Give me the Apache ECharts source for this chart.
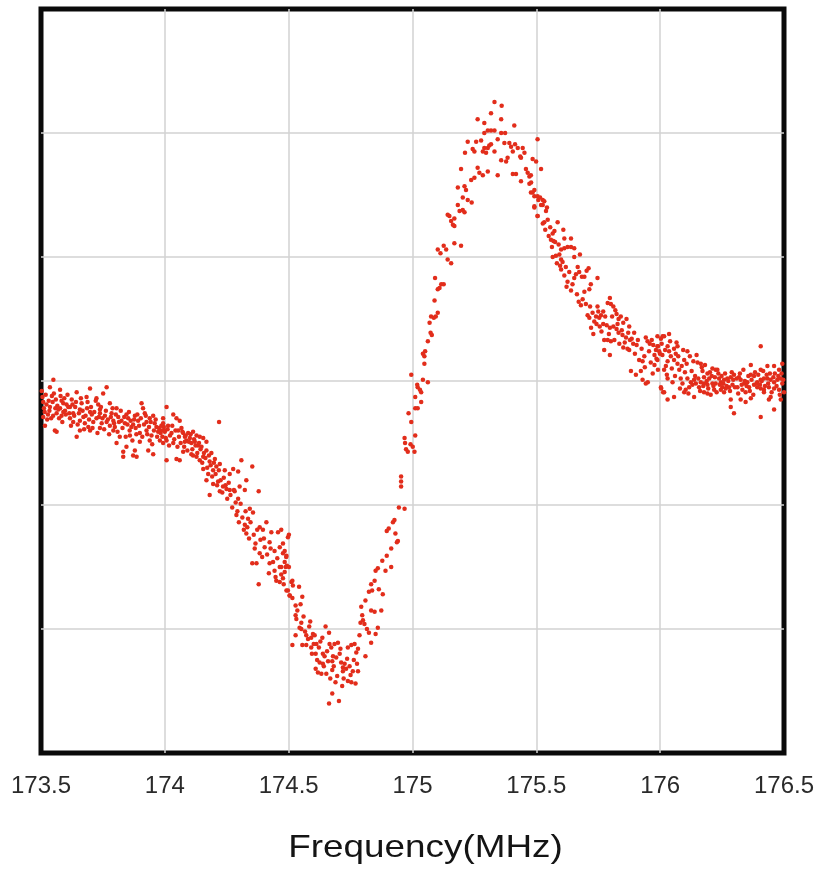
<!DOCTYPE html>
<html>
<head>
<meta charset="utf-8">
<title>Frequency sweep</title>
<script src="https://cdn.jsdelivr.net/npm/echarts@6/dist/echarts.min.js"></script>
<style>
  html, body { margin: 0; padding: 0; background: #ffffff; }
  #chart { width: 820px; height: 870px; }
</style>
</head>
<body>
<div id="chart"></div>
<script>
// Frequency axis ticks (MHz)
const freqTicks = [173.5, 174, 174.5, 175, 175.5, 176, 176.5];
const axisTitle = 'Frequency(MHz)';

// Measured points [frequency MHz, signal], grouped by part of the sweep
const lowWing = [
  [173.550,0.01],[173.536,-0.05],[173.577,-0.07],[173.552,-0.10],[173.509,-0.17],[173.547,-0.17],
  [173.644,-0.09],[173.698,-0.06],[173.765,-0.05],[173.751,-0.10],[173.724,-0.14],[173.684,-0.13],
  [173.536,-0.21],[173.577,-0.22],[173.603,-0.19],[173.617,-0.21],[173.590,-0.25],[173.563,-0.26],
  [173.509,-0.29],[173.516,-0.36],[173.556,-0.40],[173.563,-0.41],[173.630,-0.26],[173.657,-0.23],
  [173.671,-0.29],[173.698,-0.25],[173.738,-0.23],[173.778,-0.18],[173.805,-0.22],[173.644,-0.45],
  [173.805,-0.50],[173.845,-0.53],[173.832,-0.57],[173.872,-0.60],[173.899,-0.42],[173.926,-0.40],
  [173.939,-0.48],[173.966,-0.37],[173.590,-0.18],[173.610,-0.21],[173.570,-0.23],[173.583,-0.28],
  [173.617,-0.30],[173.630,-0.33],[173.657,-0.32],[173.677,-0.34],[173.691,-0.37],[173.711,-0.33],
  [173.724,-0.30],[173.738,-0.26],[173.745,-0.34],[173.765,-0.33],[173.778,-0.36],[173.792,-0.32],
  [173.812,-0.29],[173.825,-0.32],[173.839,-0.34],[173.852,-0.30],[173.865,-0.37],[173.879,-0.28],
  [173.892,-0.32],[173.906,-0.18],[173.912,-0.22],[173.919,-0.26],[173.926,-0.33],[173.939,-0.30],
  [173.953,-0.28],[173.959,-0.34],[173.973,-0.41],[173.986,-0.36],[173.999,-0.40],[174.007,-0.48],
  [173.698,-0.40],[173.657,-0.40],[173.738,-0.38],[173.792,-0.40],[173.818,-0.45],[173.859,-0.44],
  [173.899,-0.49],[173.933,-0.56],[173.953,-0.59],[173.879,-0.56],[173.886,-0.61],[173.832,-0.61],
  [173.503,-0.08],[173.512,-0.22],[173.522,-0.19],[173.528,-0.27],[173.541,-0.30],[173.560,-0.15],
  [173.566,-0.20],[173.583,-0.16],[173.597,-0.24],[173.624,-0.15],[173.638,-0.21],[173.664,-0.18],
  [173.686,-0.22],[173.705,-0.27],[173.731,-0.19],[173.758,-0.28],[173.785,-0.26],[173.798,-0.37],
  [173.845,-0.27],[173.858,-0.40],[173.872,-0.35],[173.885,-0.43],[173.946,-0.44],[173.980,-0.48],
  [173.993,-0.30],
  [173.506,-0.13],[173.515,-0.25],[173.519,-0.11],[173.525,-0.31],[173.531,-0.16],[173.534,-0.24],
  [173.544,-0.12],[173.549,-0.28],[173.558,-0.22],[173.573,-0.30],[173.579,-0.12],[173.586,-0.33],
  [173.594,-0.14],[173.600,-0.27],[173.607,-0.11],[173.614,-0.26],[173.621,-0.36],[173.627,-0.19],
  [173.634,-0.28],[173.641,-0.17],[173.648,-0.35],[173.653,-0.26],[173.661,-0.14],[173.668,-0.24],
  [173.674,-0.39],[173.680,-0.28],[173.688,-0.17],[173.694,-0.31],[173.702,-0.21],[173.708,-0.38],
  [173.715,-0.25],[173.721,-0.16],[173.728,-0.42],[173.734,-0.29],[173.742,-0.21],[173.748,-0.30],
  [173.755,-0.39],[173.762,-0.24],[173.770,-0.31],[173.775,-0.43],[173.782,-0.29],[173.789,-0.22],
  [173.795,-0.34],[173.802,-0.27],[173.809,-0.41],[173.815,-0.33],[173.822,-0.24],[173.829,-0.38],
  [173.836,-0.29],[173.842,-0.45],[173.849,-0.35],[173.855,-0.25],[173.862,-0.32],[173.869,-0.48],
  [173.876,-0.31],[173.882,-0.38],[173.889,-0.27],[173.896,-0.36],[173.903,-0.30],[173.909,-0.45],
  [173.916,-0.35],[173.923,-0.28],[173.929,-0.43],[173.936,-0.37],[173.943,-0.33],[173.949,-0.51],
  [173.956,-0.40],[173.963,-0.31],[173.969,-0.45],[173.976,-0.38],[173.983,-0.42],[173.990,-0.45],
  [173.996,-0.37]
];

const descent = [
  [174.007,-0.21],[174.034,-0.27],[174.047,-0.30],[174.060,-0.32],[173.993,-0.34],[174.013,-0.36],
  [173.986,-0.40],[174.000,-0.41],[174.027,-0.42],[174.054,-0.40],[174.067,-0.38],[174.081,-0.45],
  [174.087,-0.48],[174.101,-0.46],[174.114,-0.41],[174.128,-0.44],[174.141,-0.45],[174.155,-0.46],
  [174.168,-0.49],[173.993,-0.50],[174.034,-0.50],[174.074,-0.57],[174.007,-0.64],[174.047,-0.63],
  [174.060,-0.64],[174.107,-0.59],[174.128,-0.61],[174.141,-0.64],[174.155,-0.61],[174.168,-0.56],
  [174.188,-0.58],[174.202,-0.63],[174.219,-0.33],[174.181,-0.65],[174.155,-0.71],[174.175,-0.75],
  [174.195,-0.72],[174.208,-0.69],[174.222,-0.67],[174.242,-0.72],[174.262,-0.75],[174.276,-0.71],
  [174.296,-0.73],[174.309,-0.64],[174.353,-0.69],[174.168,-0.80],[174.195,-0.83],[174.215,-0.81],
  [174.235,-0.85],[174.249,-0.87],[174.262,-0.88],[174.282,-0.89],[174.296,-0.95],[174.181,-0.92],
  [174.222,-0.89],[174.302,-0.85],[174.323,-0.88],[174.329,-0.80],[174.379,-0.89],[174.343,-1.03],
  [174.356,-1.06],[174.336,-1.11],[174.289,-1.08],[174.323,-1.16],[174.329,-1.23],[174.383,-1.18],
  [174.396,-1.20],[174.410,-1.14],[174.430,-1.22],[174.457,-1.22],[174.497,-1.26],[174.363,-1.35],
  [174.383,-1.39],[174.403,-1.34],[174.423,-1.30],[174.443,-1.37],[174.464,-1.34],[174.477,-1.39],
  [174.490,-1.42],[174.370,-1.47],[174.353,-1.47],[174.423,-1.47],[174.443,-1.53],[174.464,-1.50],
  [174.484,-1.54],[174.450,-1.61],[174.464,-1.62],[174.379,-1.64],[174.497,-1.69],[174.511,-1.62],
  [174.504,-1.73],[174.074,-0.42],[174.094,-0.42],[174.107,-0.50],[174.121,-0.49],[174.134,-0.52],
  [174.148,-0.53],[174.114,-0.60],[174.081,-0.49],
  [174.004,-0.46],[174.011,-0.39],[174.017,-0.52],[174.021,-0.44],[174.030,-0.36],[174.038,-0.47],
  [174.043,-0.40],[174.051,-0.53],[174.057,-0.45],[174.064,-0.50],[174.071,-0.41],[174.078,-0.53],
  [174.084,-0.44],[174.091,-0.56],[174.097,-0.49],[174.104,-0.43],[174.111,-0.55],[174.118,-0.47],
  [174.124,-0.52],[174.131,-0.58],[174.138,-0.50],[174.144,-0.55],[174.151,-0.66],[174.158,-0.58],
  [174.164,-0.62],[174.171,-0.70],[174.178,-0.60],[174.185,-0.68],[174.191,-0.77],[174.198,-0.66],
  [174.205,-0.75],[174.211,-0.84],[174.218,-0.72],[174.225,-0.80],[174.232,-0.90],[174.238,-0.78],
  [174.245,-0.84],[174.252,-0.95],[174.258,-0.82],[174.265,-0.92],[174.272,-1.02],[174.279,-0.88],
  [174.286,-0.98],[174.293,-1.05],[174.299,-1.14],[174.306,-0.99],[174.313,-1.10],[174.319,-1.20],
  [174.326,-1.05],[174.333,-1.18],[174.340,-1.27],[174.346,-1.14],[174.359,-1.24],[174.366,-1.31],
  [174.373,-1.20],[174.386,-1.28],[174.393,-1.42],[174.400,-1.27],[174.413,-1.40],[174.420,-1.55],
  [174.427,-1.35],[174.437,-1.46],[174.447,-1.58],[174.454,-1.43],[174.470,-1.56],[174.480,-1.64],
  [174.488,-1.50]
];

const trough = [
  [174.470,-1.20],[174.501,-1.24],[174.477,-1.31],[174.484,-1.37],[174.491,-1.41],[174.484,-1.46],
  [174.470,-1.50],[174.493,-1.49],[174.501,-1.50],[174.477,-1.59],[174.515,-1.61],[174.517,-1.65],
  [174.491,-1.69],[174.504,-1.73],[174.515,-1.75],[174.542,-1.66],[174.555,-1.74],[174.528,-1.81],
  [174.528,-1.89],[174.531,-1.92],[174.551,-1.95],[174.587,-1.94],[174.544,-1.99],[174.551,-2.00],
  [174.528,-2.05],[174.515,-2.13],[174.555,-2.13],[174.571,-2.05],[174.578,-2.08],[174.591,-2.07],
  [174.598,-2.04],[174.605,-2.05],[174.571,-2.13],[174.591,-2.15],[174.612,-2.12],[174.622,-2.15],
  [174.636,-2.07],[174.649,-1.98],[174.663,-2.03],[174.665,-2.12],[174.672,-2.15],[174.685,-2.12],
  [174.699,-2.11],[174.609,-2.20],[174.638,-2.20],[174.645,-2.22],[174.679,-2.22],[174.692,-2.23],
  [174.706,-2.20],[174.739,-2.15],[174.753,-2.13],[174.766,-2.12],[174.780,-2.16],[174.773,-2.19],
  [174.810,-2.22],[174.625,-2.27],[174.638,-2.28],[174.659,-2.26],[174.676,-2.26],[174.712,-2.27],
  [174.726,-2.28],[174.719,-2.31],[174.746,-2.30],[174.609,-2.32],[174.618,-2.35],[174.632,-2.36],
  [174.652,-2.36],[174.676,-2.33],[174.719,-2.34],[174.732,-2.32],[174.759,-2.34],[174.780,-2.34],
  [174.689,-2.43],[174.716,-2.46],[174.739,-2.42],[174.753,-2.43],[174.770,-2.44],[174.676,-2.52],
  [174.663,-2.60],[174.703,-2.58],
  [174.535,-1.85],[174.548,-1.80],[174.560,-1.90],[174.566,-2.02],[174.583,-1.98],[174.594,-2.20],
  [174.601,-2.12],[174.615,-2.25],[174.628,-2.10],[174.642,-2.30],[174.655,-2.18],[174.668,-2.40],
  [174.682,-2.30],[174.696,-2.38],[174.709,-2.16],[174.722,-2.40],[174.736,-2.24],[174.750,-2.37],
  [174.763,-2.25],[174.776,-2.28],[174.786,-2.05],[174.790,-1.95],
  [174.793,-1.82],[174.797,-1.89],[174.800,-1.93],[174.806,-1.96],[174.816,-2.00],[174.824,-2.03],
  [174.833,-2.11],[174.851,-2.04],[174.833,-1.85],[174.847,-1.86],[174.860,-1.99],[174.874,-1.85],
  [174.810,-1.77],[174.824,-1.70],[174.837,-1.69],[174.833,-1.64],[174.847,-1.61],[174.864,-1.68],
  [174.880,-1.72],[174.851,-1.53],[174.860,-1.51],[174.891,-1.53],[174.878,-1.45],[174.914,-1.50],
  [174.896,-1.41],[174.914,-1.35],[174.896,-1.21],[174.904,-1.19],[174.931,-1.23],[174.941,-1.29],
  [174.937,-1.30],[174.921,-1.14],[174.927,-1.12],[174.945,-1.02],[174.968,-1.03]
];

const rise = [
  [174.954,-0.77],[174.954,-0.81],[174.954,-0.85],[174.968,-0.46],[174.970,-0.50],[174.974,-0.55],
  [174.981,-0.57],[174.992,-0.51],[175.001,-0.53],[175.008,-0.57],[175.011,-0.44],[174.984,-0.26],
  [174.995,-0.33],[174.995,0.05],[175.011,-0.22],[175.021,-0.22],[175.011,-0.13],[175.021,-0.05],
  [175.030,-0.07],[175.035,-0.09],[175.042,0.01],[175.062,-0.01],[175.035,-0.17],[175.019,-0.03],
  [175.042,0.22],[175.048,0.20],[175.048,0.14],[175.051,0.24],[175.062,0.32],[175.069,0.47],
  [175.073,0.39],[175.078,0.37],[175.075,0.52],[175.086,0.51],[175.094,0.52],[175.102,0.55],
  [175.089,0.65],[175.091,0.83],[175.102,0.74],[175.109,0.75],[175.116,0.78],[175.126,0.78],
  [175.102,1.06],[175.113,1.03],[175.126,1.09],[175.136,1.06],[175.142,0.98],[175.156,0.95],
  [175.169,1.11],[175.196,1.09],[175.142,1.34],[175.149,1.33],[175.156,1.29],[175.163,1.26],
  [175.169,1.25],[175.169,1.31],[175.183,1.42],[175.190,1.37],[175.203,1.38],[175.210,1.36],
  [175.183,1.56],[175.210,1.57],[175.216,1.54],[175.203,1.48],[175.223,1.46],[175.239,1.44],
  [175.196,1.71],[175.237,1.62],[175.250,1.64],[175.263,1.72],[175.270,1.68],[175.284,1.66],
  [175.304,1.69],[175.344,1.66],[175.212,1.84],[175.223,1.93],[175.243,1.87],[175.250,1.85],
  [175.257,1.93],[175.277,1.94],[175.284,1.85],[175.290,1.88],[175.304,1.88],[175.310,1.90],
  [175.317,1.91],[175.297,1.84],[175.331,1.85],[175.290,2.00],[175.304,2.02],[175.317,2.02],
  [175.331,2.02],[175.344,1.95],[175.358,2.00],[175.374,2.00],[175.263,2.11],[175.290,2.08],
  [175.317,2.16],[175.331,2.25],[175.358,2.11],[175.360,2.22],[175.411,2.06],[175.371,1.92],
  [175.391,1.92],[175.398,1.89],[175.405,1.85],[175.414,1.91],[175.425,1.88],[175.435,1.81],
  [175.445,1.88],[175.452,1.84],[175.438,1.80],[175.358,1.78],[175.378,1.77],[175.384,1.80],
  [175.405,1.67],[175.418,1.67],[175.438,1.61],[175.458,1.71],[175.465,1.68],[175.472,1.65],
  [175.478,1.66],[175.472,1.59],[175.485,1.79],[175.499,1.77],[175.519,1.71],[175.505,1.95],
  [175.478,1.52],[175.492,1.49],[175.508,1.46],[175.526,1.42],[175.492,1.41],[175.505,1.33],
  [175.526,1.27]
];

const fall = [
  [175.479,1.60],[175.485,1.52],[175.492,1.54],[175.505,1.49],[175.515,1.48],[175.526,1.46],
  [175.532,1.45],[175.519,1.42],[175.492,1.40],[175.505,1.33],[175.539,1.37],[175.532,1.28],
  [175.546,1.30],[175.550,1.17],[175.559,1.14],[175.566,1.19],[175.573,1.21],[175.569,1.13],
  [175.586,1.28],[175.609,1.22],[175.613,1.15],[175.640,1.15],[175.566,1.00],[175.579,1.01],
  [175.593,1.02],[175.600,1.06],[175.613,1.07],[175.626,1.08],[175.640,1.08],[175.653,1.07],
  [175.653,1.00],[175.676,1.02],[175.600,0.98],[175.600,0.90],[175.613,0.85],[175.626,0.80],
  [175.622,0.76],[175.640,0.73],[175.653,0.83],[175.667,0.92],[175.673,0.88],[175.684,0.84],
  [175.694,0.84],[175.703,0.89],[175.711,0.91],[175.694,0.72],[175.720,0.78],[175.714,0.74],
  [175.747,0.83],[175.671,0.64],[175.680,0.61],[175.707,0.53],[175.714,0.51],[175.727,0.55],
  [175.741,0.52],[175.747,0.60],[175.754,0.51],[175.761,0.53],[175.770,0.56],[175.778,0.52],
  [175.788,0.63],[175.797,0.67],[175.801,0.62],[175.811,0.60],[175.819,0.57],[175.824,0.54],
  [175.832,0.50],[175.841,0.52],[175.851,0.47],[175.864,0.50],[175.875,0.44],[175.895,0.39],
  [175.721,0.43],[175.730,0.38],[175.743,0.46],[175.756,0.44],[175.770,0.46],[175.784,0.45],
  [175.797,0.43],[175.811,0.44],[175.824,0.42],[175.832,0.39],[175.848,0.37],[175.862,0.35],
  [175.878,0.33],[175.891,0.30],[175.905,0.29],[175.774,0.33],[175.788,0.33],[175.801,0.32],
  [175.815,0.33],[175.835,0.30],[175.851,0.27],[175.868,0.26],[175.875,0.25],[175.797,0.21],
  [175.774,0.25],[175.915,0.17],[175.929,0.16],[175.936,0.20],[175.942,0.35],[175.949,0.32],
  [175.958,0.30],[175.966,0.33],[175.972,0.29],[175.983,0.25],[175.991,0.28],[175.977,0.21],
  [175.991,0.09],[175.999,0.22],[175.882,0.08],[175.902,0.05],[175.922,0.08],[175.929,0.01],
  [175.942,-0.02],[175.950,-0.01],[175.977,0.13],[176.004,-0.06],[176.012,-0.09],[176.010,0.36],
  [175.536,1.22],[175.543,1.40],[175.556,1.24],[175.563,1.08],[175.576,1.12],[175.583,0.95],
  [175.590,1.10],[175.596,0.93],[175.606,0.96],[175.619,0.92],[175.633,0.88],[175.646,0.78],
  [175.660,0.86],[175.664,0.70],[175.687,0.66],[175.700,0.62],[175.717,0.60],[175.734,0.48],
  [175.750,0.56],[175.763,0.40],[175.793,0.38],[175.806,0.52],[175.828,0.46],[175.845,0.41],
  [175.857,0.31],[175.871,0.39],[175.885,0.34],[175.898,0.22],[175.910,0.33],[175.925,0.26],
  [175.938,0.11],[175.955,0.24],[175.962,0.15],[175.970,0.06],[175.985,0.18]
];

const highWing = [
  [175.989,0.36],[176.003,0.34],[176.016,0.36],[176.036,0.38],[175.989,0.28],[175.996,0.24],
  [176.009,0.21],[175.989,0.17],[176.030,0.28],[176.036,0.24],[176.043,0.20],[176.056,0.26],
  [176.070,0.28],[176.063,0.22],[176.056,0.17],[176.070,0.14],[176.077,0.09],[176.030,0.16],
  [176.023,0.12],[176.016,0.09],[176.030,0.02],[176.003,-0.05],[176.016,-0.09],[176.030,-0.15],
  [176.056,-0.13],[176.050,-0.01],[176.083,0.02],[176.097,0.17],[176.110,0.24],[176.090,-0.02],
  [176.103,-0.07],[176.151,0.15],[176.164,0.14],[176.171,0.08],[176.177,0.03],[176.191,0.06],
  [176.198,0.02],[176.211,0.10],[176.224,0.09],[176.231,0.09],[176.238,0.02],[176.110,0.02],
  [176.124,-0.01],[176.137,0.01],[176.144,-0.02],[176.130,-0.03],[176.117,-0.05],[176.157,-0.05],
  [176.164,-0.01],[176.177,-0.02],[176.191,-0.03],[176.211,-0.02],[176.224,-0.02],[176.245,-0.01],
  [176.258,0.01],[176.271,0.02],[176.285,0.03],[176.298,0.05],[176.251,-0.05],[176.265,-0.06],
  [176.278,-0.05],[176.292,-0.03],[176.177,-0.09],[176.191,-0.10],[176.204,-0.11],[176.218,-0.07],
  [176.245,-0.07],[176.258,-0.09],[176.137,-0.13],[176.097,-0.09],[176.285,-0.15],[176.285,-0.21],
  [176.298,-0.26],[176.318,0.03],[176.325,0.01],[176.339,-0.02],[176.352,-0.01],[176.366,0.05],
  [176.379,0.04],[176.392,-0.01],[176.406,0.01],[176.419,0.02],[176.433,0.02],[176.446,0.01],
  [176.460,-0.01],[176.473,0.01],[176.487,0.02],[176.493,-0.02],[176.312,-0.05],[176.332,-0.07],
  [176.345,-0.09],[176.359,-0.05],[176.379,-0.03],[176.392,-0.05],[176.406,-0.06],[176.419,-0.07],
  [176.439,-0.05],[176.460,-0.06],[176.480,-0.07],[176.500,-0.09],[176.325,-0.15],[176.345,-0.17],
  [176.366,-0.14],[176.406,0.28],[176.366,0.13],[176.406,0.09],[176.433,0.12],[176.460,0.12],
  [176.493,0.14],[176.480,0.09],[176.446,-0.13],[176.439,-0.15],[176.460,-0.23],[176.487,-0.15],
  [176.419,-0.09],[176.406,-0.29],
  [176.006,0.30],[176.020,0.25],[176.027,0.05],[176.040,0.32],[176.047,0.10],[176.060,0.04],
  [176.066,0.31],[176.073,0.20],[176.080,-0.06],[176.087,0.12],[176.093,0.25],[176.100,0.07],
  [176.107,0.14],[176.114,-0.10],[176.120,0.20],[176.127,0.08],[176.134,0.16],[176.141,0.04],
  [176.147,0.21],[176.154,0.02],[176.161,-0.08],[176.168,0.11],[176.174,-0.04],[176.181,0.13],
  [176.188,0.00],[176.194,-0.06],[176.201,0.07],[176.208,0.04],[176.215,-0.04],[176.221,0.03],
  [176.228,-0.09],[176.235,0.06],[176.241,-0.03],[176.248,0.04],[176.255,-0.02],[176.262,0.06],
  [176.268,-0.04],[176.275,0.00],[176.282,-0.08],[176.289,0.07],[176.295,0.01],[176.302,-0.05],
  [176.309,0.02],[176.315,-0.10],[176.322,0.06],[176.329,-0.03],[176.336,0.09],[176.342,0.00],
  [176.349,-0.04],[176.356,0.04],[176.362,-0.08],[176.369,0.01],[176.376,-0.11],[176.383,0.07],
  [176.389,-0.02],[176.396,0.05],[176.403,-0.03],[176.410,0.00],[176.416,0.08],[176.423,-0.04],
  [176.430,0.05],[176.436,-0.02],[176.443,0.06],[176.450,-0.09],[176.457,0.03],[176.463,0.06],
  [176.470,-0.04],[176.477,0.04],[176.483,-0.11],[176.490,0.06],[176.497,0.01]
];

const samples = [].concat(lowWing, descent, trough, rise, fall, highWing);

const chart = echarts.init(document.getElementById('chart'), null, { renderer: 'canvas' });

// interior grid lines only; the plot frame is the grid border
const gridLine = {
  show: true,
  showMinLine: false,
  showMaxLine: false,
  lineStyle: { color: '#d2d2d2', width: 1.5 }
};

chart.setOption({
  animation: false,
  backgroundColor: '#ffffff',
  grid: {
    left: 41, right: 36, top: 9, bottom: 117,
    show: true,
    borderColor: '#0a0a0a',
    borderWidth: 5,
    backgroundColor: 'transparent'
  },
  xAxis: {
    type: 'value',
    min: freqTicks[0],
    max: freqTicks[freqTicks.length - 1],
    interval: 0.5,
    axisLine: { show: false },
    axisTick: { show: false },
    splitLine: gridLine,
    axisLabel: {
      show: true,
      margin: 21,
      fontSize: 24,
      color: '#2a2a2a',
      fontFamily: 'Liberation Sans',
      showMinLabel: true,
      showMaxLabel: true,
      formatter: v => String(+v.toFixed(1))
    }
  },
  yAxis: {
    type: 'value',
    min: -3,
    max: 3,
    interval: 1,
    axisLine: { show: false },
    axisTick: { show: false },
    axisLabel: { show: false },
    splitLine: gridLine
  },
  graphic: [{
    type: 'text',
    x: 425.5,
    y: 848,
    scaleX: 1.17,
    style: {
      text: axisTitle,
      font: '31.5px "Liberation Sans", Arial, sans-serif',
      fill: '#141414',
      textAlign: 'center',
      textVerticalAlign: 'middle'
    }
  }],
  series: [{
    type: 'scatter',
    data: samples,
    symbol: 'circle',
    symbolSize: 4.5,
    itemStyle: { color: '#e22d1b', opacity: 1 },
    emphasis: { disabled: true },
    clip: false
  }]
});
</script>
</body>
</html>
